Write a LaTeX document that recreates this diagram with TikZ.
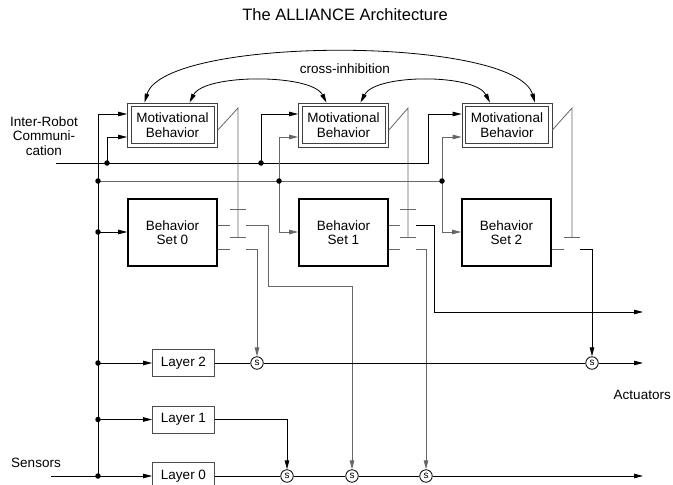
\documentclass[tikz,border=0pt]{standalone}
\usepackage{fontspec}
\setmainfont{Liberation Sans}
\usetikzlibrary{arrows.meta,calc}

\begin{document}
\begin{tikzpicture}[x=1pt,y=-1pt,line width=0.8pt,
  >={Triangle[length=9pt,width=4.5pt]},
  font=\fontsize{13.5}{14.5}\selectfont,
  motive/.style={draw=black!75,minimum width=90pt,minimum height=44pt,align=center,inner sep=1pt},
  behset/.style={draw,line width=1.6pt,minimum width=89pt,minimum height=67pt,align=center},
  layer/.style={draw=black!70,minimum width=62pt,minimum height=27pt,inner sep=1pt},
  swnode/.style={circle,draw,inner sep=0pt,minimum size=12.5pt,font=\fontsize{10}{10}\selectfont},
  junction/.style={circle,fill,inner sep=0pt,minimum size=5.5pt},
  gline/.style={black!60}]
\useasboundingbox (0,0) rectangle (673,485);

\node (title) at (345,15) {\fontsize{16.5}{18}\selectfont The ALLIANCE Architecture};
\node (xinhib) at (345,69) {cross-inhibition};
\node[align=center] (comm) at (44,136) {Inter-Robot\\Communi-\\cation};
\node (sensors) at (36,463) {Sensors};
\node[anchor=west] (actuators) at (610,395) {Actuators};

\node[motive] (mot0) at (172.5,125) {Motivational\\Behavior};
\node[motive] (mot1) at (343.5,125) {Motivational\\Behavior};
\node[motive] (mot2) at (507,125) {Motivational\\Behavior};
\draw[black!75] ($(mot0.north west)+(4,4)$) rectangle ($(mot0.south east)+(-4,-4)$);
\draw[black!75] ($(mot1.north west)+(4,4)$) rectangle ($(mot1.south east)+(-4,-4)$);
\draw[black!75] ($(mot2.north west)+(4,4)$) rectangle ($(mot2.south east)+(-4,-4)$);

\node[behset] (bset0) at (172.5,232.5) {Behavior\\Set 0};
\node[behset] (bset1) at (343.5,232.5) {Behavior\\Set 1};
\node[behset] (bset2) at (506.5,232.5) {Behavior\\Set 2};

\node[layer] (lay2) at (183.5,363) {Layer 2};
\node[layer] (lay1) at (183.5,419.5) {Layer 1};
\node[layer] (lay0) at (183.5,476) {Layer 0};

\node[swnode] (s2a) at (257,363) {s};
\node[swnode] (s2b) at (592,363) {s};
\node[swnode] (s0a) at (287,476) {s};
\node[swnode] (s0b) at (352,476) {s};
\node[swnode] (s0c) at (426,476) {s};

\coordinate (commin) at (56,163);
\coordinate (sensin) at (51,476);
\coordinate (actout0) at (643,476);
\coordinate (actout1) at (643,312);
\coordinate (actout2) at (643,363);
\coordinate (k0) at (238,108);
\coordinate (k1) at (408,108);
\coordinate (k2) at (572,108);

% cross-inhibition
\draw[<->] ([xshift=-28pt]mot0.north) .. controls +(20,-67) and +(-20,-67) .. ([xshift=28pt]mot2.north);
\draw[<->] ([xshift=17pt]mot0.north) .. controls +(15,-29) and +(-15,-29) .. ([xshift=-17pt]mot1.north);
\draw[<->] ([xshift=17pt]mot1.north) .. controls +(15,-29) and +(-15,-29) .. ([xshift=-17pt]mot2.north);

% inputs
\draw[->] (sensin) -- (lay0);
\draw[->] (98,476) |- (mot0.west |- 0,114);
\draw[->] (commin) -- (428,163) |- (mot2.west |- 0,114);
\draw[->] (107,163) |- (mot0.west |- 0,137);
\draw[->] (261,163) |- (mot1.west |- 0,114);
\draw[gline] (98,181) -- (442,181);
\draw[gline,->] (279,181) |- (mot1.west |- 0,137);
\draw[gline,->] (279,181) |- (bset1.west |- 0,232);
\draw[gline,->] (442,181) |- (mot2.west |- 0,137);
\draw[gline,->] (442,181) |- (bset2.west |- 0,232);
\draw[->] (98,232) -- (bset0.west |- 0,232);
\draw[->] (98,363) -- (lay2);
\draw[->] (98,419.5) -- (lay1);

% switches
\draw[gline] ($(mot0.east)+(0,5)$) -- (k0) -- (k0 |- 0,237);
\draw[gline] (230,209) -- (246,209) (230,237) -- (246,237);
\draw[gline] (bset0.east |- 0,225) -- (230,225) (bset0.east |- 0,249) -- (230,249);
\draw[gline,->] (246,225) -| (268,286) -| (s0b);
\draw[gline,->] (246,249) -| (s2a);

\draw[gline] ($(mot1.east)+(0,5)$) -- (k1) -- (k1 |- 0,237);
\draw[gline] (400,209) -- (416,209) (400,237) -- (416,237);
\draw[gline] (bset1.east |- 0,225) -- (400,225) (bset1.east |- 0,249) -- (400,249);
\draw[->] (416,225) -| (434,312) -- (actout1);
\draw[gline,->] (416,249) -| (s0c);

\draw[gline] ($(mot2.east)+(0,5)$) -- (k2) -- (k2 |- 0,237);
\draw[gline] (564,237) -- (580,237);
\draw[gline] (bset2.east |- 0,249) -- (564,249);
\draw[->] (580,249) -| (s2b);

% layers
\draw (lay2) -- (s2a) -- (s2b);
\draw[->] (s2b) -- (actout2);
\draw (lay0) -- (s0a) -- (s0b) -- (s0c);
\draw[->] (s0c) -- (actout0);
\draw[->] (lay1) -| (s0a);

\node[junction] (jb1) at (98,181) {};
\node[junction] (jb2) at (98,232) {};
\node[junction] (jb3) at (98,363) {};
\node[junction] (jb4) at (98,419.5) {};
\node[junction] (jb5) at (98,476) {};
\node[junction] (jc1) at (107,163) {};
\node[junction] (jc2) at (261,163) {};
\node[junction] (jg1) at (279,181) {};
\node[junction] (jg2) at (442,181) {};
\end{tikzpicture}
\end{document}
